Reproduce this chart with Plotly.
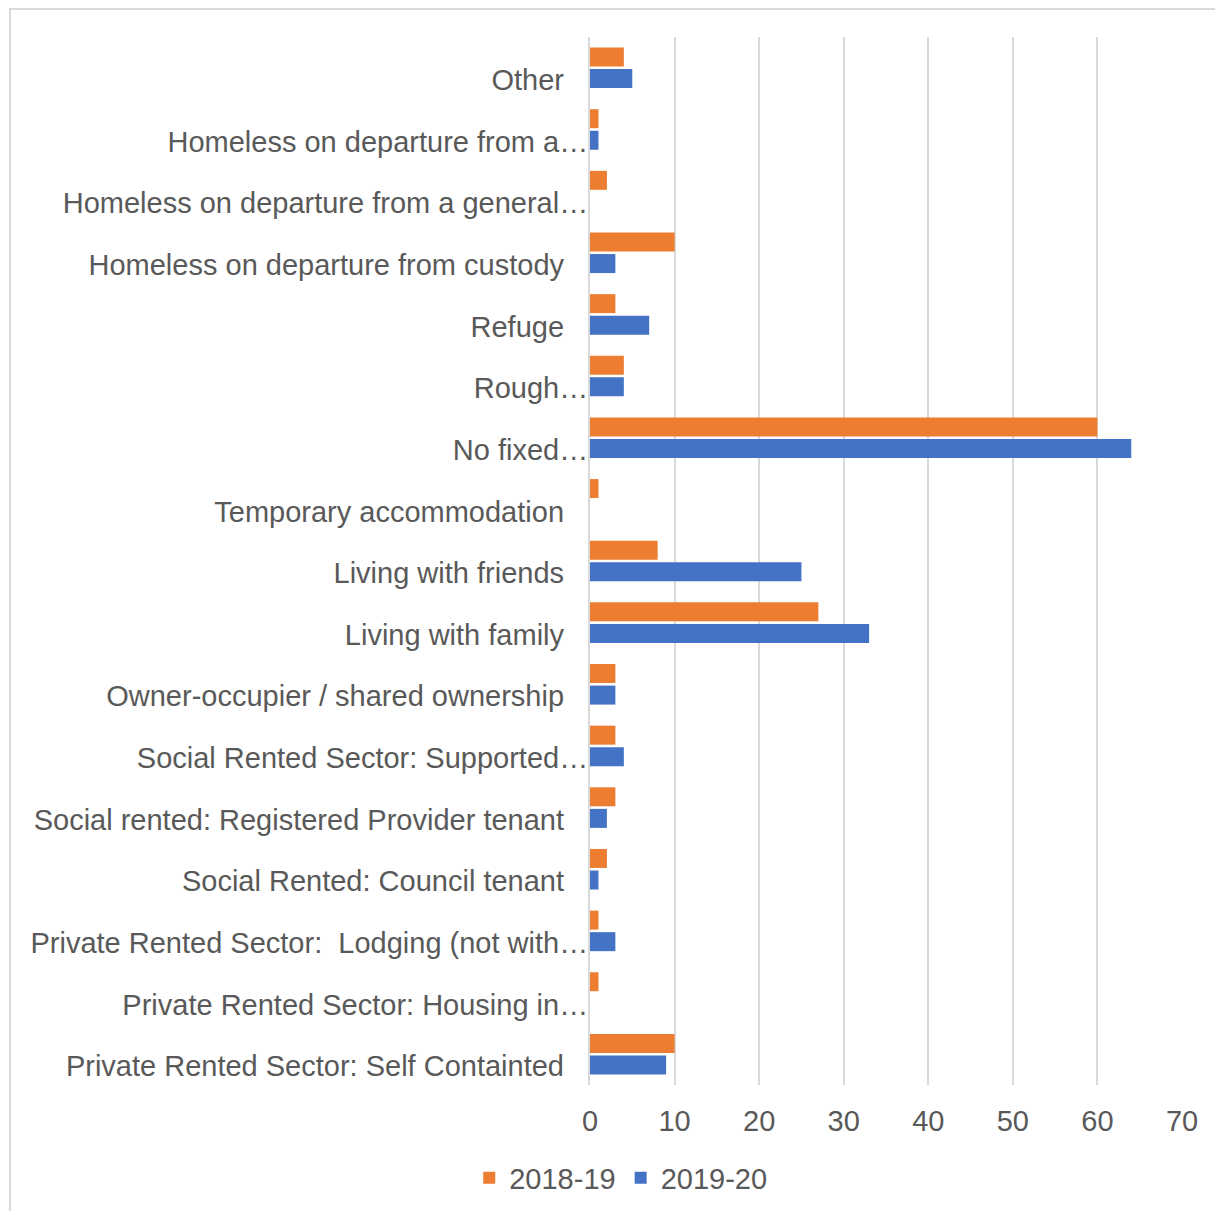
import plotly.graph_objects as go

# categories, top to bottom as they appear on the chart
categories = [
    "Other",
    "Homeless on departure from a…",
    "Homeless on departure from a general…",
    "Homeless on departure from custody",
    "Refuge",
    "Rough…",
    "No fixed…",
    "Temporary accommodation",
    "Living with friends",
    "Living with family",
    "Owner-occupier / shared ownership",
    "Social Rented Sector: Supported…",
    "Social rented: Registered Provider tenant",
    "Social Rented: Council tenant",
    "Private Rented Sector:  Lodging (not with…",
    "Private Rented Sector: Housing in…",
    "Private Rented Sector: Self Containted",
]
values_2018_19 = [4, 1, 2, 10, 3, 4, 60, 1, 8, 27, 3, 3, 3, 2, 1, 1, 10]
values_2019_20 = [5, 1, 0, 3, 7, 4, 64, 0, 25, 33, 3, 4, 2, 1, 3, 0, 9]
x_ticks = [0, 10, 20, 30, 40, 50, 60, 70]

FONT = "Liberation Sans, Arial, sans-serif"
TEXT_COLOR = "#595959"
GRID_COLOR = "#D9D9D9"

# plot area inside the figure (the page adds an 8px body margin)
L, R, T, B = 582, 49, 29, 134
PW = 1223 - L - R
PH = 1211 - T - B

# Excel right-aligns the full labels a little away from the axis,
# while the truncated ones (ending in …) run right up to it
tick_text = [c if c.endswith("…") else c + "\u00a0" * 3 for c in categories]

fig = go.Figure()
fig.add_trace(go.Bar(
    x=values_2018_19,
    y=categories,
    orientation="h",
    name="2018-19",
    marker=dict(color="#ED7D31", line=dict(width=0)),
))
fig.add_trace(go.Bar(
    x=values_2019_20,
    y=categories,
    orientation="h",
    name="2019-20",
    marker=dict(color="#4472C4", line=dict(width=0)),
))

fig.update_layout(
    width=1223,
    height=1211,
    margin=dict(l=L, r=R, t=T, b=B),
    paper_bgcolor="white",
    plot_bgcolor="white",
    barmode="group",
    bargap=0.3,
    bargroupgap=0.12,
    font=dict(family=FONT, size=29, color=TEXT_COLOR),
    showlegend=True,
    legend=dict(
        orientation="h",
        xref="container",
        yref="container",
        x=0.501,
        y=0.034,
        xanchor="center",
        yanchor="middle",
        font=dict(size=29, color=TEXT_COLOR),
        itemwidth=30,
    ),
    xaxis=dict(
        range=[0, 70],
        tickvals=x_ticks,
        showgrid=True,
        gridcolor=GRID_COLOR,
        gridwidth=2,
        zeroline=False,
        showline=False,
        ticks="",
        ticklabelstandoff=16,
    ),
    yaxis=dict(
        categoryorder="array",
        categoryarray=categories,
        tickvals=categories,
        ticktext=tick_text,
        autorange="reversed",
        showline=True,
        linecolor=GRID_COLOR,
        linewidth=2,
        showgrid=False,
        ticks="",
        ticklabelstandoff=-6,
        ticklabelshift=-12,
    ),
    shapes=[dict(
        type="rect",
        xref="paper",
        yref="paper",
        x0=(2 - L) / PW,
        x1=(1240 - L) / PW,
        y0=(T + PH - 1240) / PH,
        y1=(T + PH - 1) / PH,
        line=dict(color=GRID_COLOR, width=2),
        fillcolor="rgba(0,0,0,0)",
        layer="below",
    )],
)

fig.write_html("out.html")
